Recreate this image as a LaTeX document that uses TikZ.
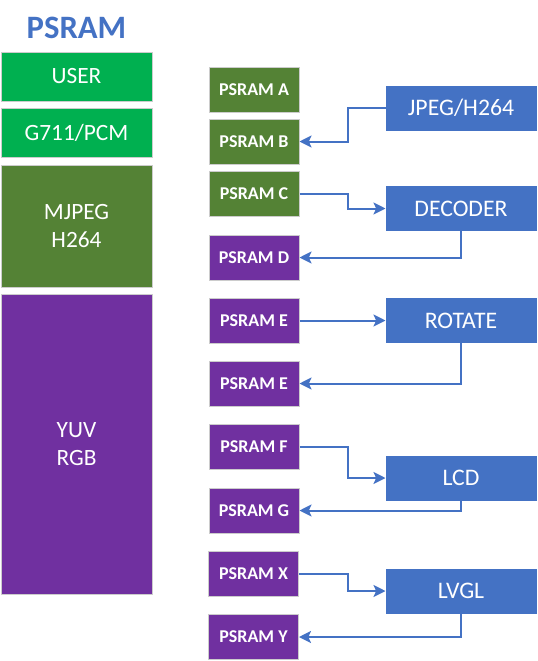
\documentclass[tikz,border=0pt]{standalone}
\usepackage{fontspec}
\setmainfont{Carlito}
\usetikzlibrary{arrows.meta}

\definecolor{userGreen}{HTML}{00B050}
\definecolor{codecGreen}{HTML}{548235}
\definecolor{framePurple}{HTML}{7030A0}
\definecolor{engineBlue}{HTML}{4472C4}

\def\armlen{38}

\begin{document}
\begin{tikzpicture}[x=0.75pt,y=-0.75pt]
				\tikzstyle{block}=[rectangle,draw=black!20,line width=0.75pt,text=white,inner sep=0pt,align=center]
				\tikzstyle{region}=[block,minimum width=113.25pt,font=\fontsize{17.5}{21}\selectfont]
				\tikzstyle{psram}=[block,minimum width=67.5pt,minimum height=33.75pt,font=\bfseries\fontsize{13.5}{15}\selectfont]
				\tikzstyle{engine}=[block,fill=engineBlue,draw=engineBlue,minimum width=112.5pt,minimum height=33pt,font=\fontsize{17.8}{20}\selectfont]
				\tikzstyle{link}=[draw=engineBlue,line width=1.5pt,-{Stealth[length=9pt,width=9pt,inset=2pt]}]

			    \useasboundingbox (0,0) rectangle (537,661);

			    % Title
			    \node[text=engineBlue,font=\bfseries\fontsize{24.5}{28}\selectfont] (title) at (76.5,28) {PSRAM};

			    % Memory map on the left
			    \node[region,fill=userGreen,minimum height=36.75pt] (user) at (76.5,76.5) {USER};
			    \node[region,fill=userGreen,minimum height=36.75pt] (audio) at (76.5,132.5) {G711/PCM};
			    \node[region,fill=codecGreen,minimum height=91.5pt] (codec) at (76.5,226) {MJPEG\\H264};
			    \node[region,fill=framePurple,minimum height=225pt] (frame) at (76.5,444) {YUV\\RGB};

			    % PSRAM buffers
			    \node[psram,fill=codecGreen] (pa) at (254,89.5) {PSRAM A};
			    \node[psram,fill=codecGreen] (pb) at (254,141.5) {PSRAM B};
			    \node[psram,fill=codecGreen] (pc) at (254,194) {PSRAM C};
			    \node[psram,fill=framePurple] (pd) at (254,257.5) {PSRAM D};
			    \node[psram,fill=framePurple] (pe) at (254,320.5) {PSRAM E};
			    \node[psram,fill=framePurple] (pe2) at (254,383.5) {PSRAM E};
			    \node[psram,fill=framePurple] (pf) at (254,446.5) {PSRAM F};
			    \node[psram,fill=framePurple] (pg) at (254,510.5) {PSRAM G};
			    \node[psram,fill=framePurple] (px) at (253.5,573.5) {PSRAM X};
			    \node[psram,fill=framePurple] (py) at (253.5,637) {PSRAM Y};

			    % Processing engines
			    \node[engine] (jpeg) at (461,108) {JPEG/H264};
			    \node[engine] (decoder) at (461,208.5) {DECODER};
			    \node[engine] (rotate) at (461,320.5) {ROTATE};
			    \node[engine] (lcd) at (461,478) {LCD};
			    \node[engine] (lvgl) at (461,591) {LVGL};

			    % Data flow between buffers and engines
			    \path[link] (jpeg.west) -- ++(-\armlen,0) |- (pb.east);
			    \path[link] (pc.east) -- ++(48,0) |- (decoder.west);
			    \path[link] (decoder.south) |- (pd.east);
			    \path[link] (pe.east) -- (rotate.west);
			    \path[link] (rotate.south) |- (pe2.east);
			    \path[link] (pf.east) -- ++(48,0) |- (lcd.west);
			    \path[link] (lcd.south) |- (pg.east);
			    \path[link] (px.east) -- ++(48.5,0) |- (lvgl.west);
			    \path[link] (lvgl.south) |- (py.east);

			\end{tikzpicture}
\end{document}
